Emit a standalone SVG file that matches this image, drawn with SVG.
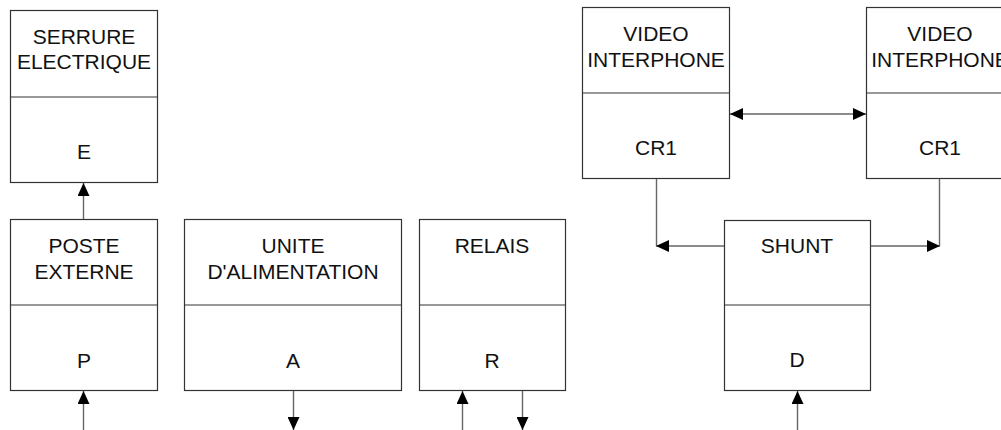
<svg xmlns="http://www.w3.org/2000/svg" width="1001" height="430" viewBox="0 0 1001 430">
<defs>
<marker id="ah" viewBox="0 0 13 12" refX="13" refY="6" markerWidth="13" markerHeight="12" markerUnits="userSpaceOnUse" orient="auto-start-reverse">
<path d="M0,0 L13,6 L0,12 Z" fill="#000"/>
</marker>
<style>
.box{fill:#fff;stroke:#333;stroke-width:1.2}
.div{stroke:#333;stroke-width:1.2}
.t{font-family:"Liberation Sans",Arial,sans-serif;font-size:21px;fill:#111;text-anchor:middle}
.c{fill:none;stroke:#666;stroke-width:1.4}
</style>
</defs>
<rect width="1001" height="430" fill="#fff"/>
<g id="E">
<rect class="box" x="10.5" y="10.5" width="147" height="172"/>
<line class="div" x1="10.5" y1="97" x2="157.5" y2="97"/>
<text class="t" x="84" y="44">SERRURE</text>
<text class="t" x="84" y="69">ELECTRIQUE</text>
<text class="t" x="84" y="159">E</text>
</g>
<g id="P">
<rect class="box" x="10.5" y="219.5" width="147" height="171"/>
<line class="div" x1="10.5" y1="305" x2="157.5" y2="305"/>
<text class="t" x="84" y="253">POSTE</text>
<text class="t" x="84" y="279">EXTERNE</text>
<text class="t" x="84" y="368">P</text>
</g>
<g id="A">
<rect class="box" x="184.5" y="219.5" width="217" height="171"/>
<line class="div" x1="184.5" y1="305" x2="401.5" y2="305"/>
<text class="t" x="293" y="253">UNITE</text>
<text class="t" x="293" y="279">D'ALIMENTATION</text>
<text class="t" x="293" y="368">A</text>
</g>
<g id="R">
<rect class="box" x="419.5" y="219.5" width="146" height="171"/>
<line class="div" x1="419.5" y1="305" x2="565.5" y2="305"/>
<text class="t" x="492" y="253">RELAIS</text>
<text class="t" x="492" y="368">R</text>
</g>
<g id="CR1a">
<rect class="box" x="582.5" y="7.5" width="147" height="171"/>
<line class="div" x1="582.5" y1="93" x2="729.5" y2="93"/>
<text class="t" x="656" y="41">VIDEO</text>
<text class="t" x="656" y="67">INTERPHONE</text>
<text class="t" x="656" y="155">CR1</text>
</g>
<g id="CR1b">
<rect class="box" x="866.5" y="7.5" width="147" height="171"/>
<line class="div" x1="866.5" y1="93" x2="1013.5" y2="93"/>
<text class="t" x="940" y="41">VIDEO</text>
<text class="t" x="940" y="67">INTERPHONE</text>
<text class="t" x="940" y="155">CR1</text>
</g>
<g id="D">
<rect class="box" x="724.5" y="220.5" width="146" height="170"/>
<line class="div" x1="724.5" y1="305" x2="870.5" y2="305"/>
<text class="t" x="797" y="253">SHUNT</text>
<text class="t" x="797" y="367">D</text>
</g>
<g id="connectors">
<line class="c" x1="83.5" y1="219" x2="83.5" y2="183" marker-end="url(#ah)"/>
<line class="c" x1="83.5" y1="430" x2="83.5" y2="391" marker-end="url(#ah)"/>
<line class="c" x1="293.5" y1="391" x2="293.5" y2="430" marker-end="url(#ah)"/>
<line class="c" x1="462.5" y1="430" x2="462.5" y2="391" marker-end="url(#ah)"/>
<line class="c" x1="522.5" y1="391" x2="522.5" y2="430" marker-end="url(#ah)"/>
<line class="c" x1="730" y1="114" x2="866" y2="114" marker-start="url(#ah)" marker-end="url(#ah)"/>
<line class="c" x1="656.5" y1="179" x2="656.5" y2="246"/>
<line class="c" x1="724" y1="246" x2="656" y2="246" marker-end="url(#ah)"/>
<line class="c" x1="939.5" y1="179" x2="939.5" y2="246"/>
<line class="c" x1="871" y1="246" x2="940" y2="246" marker-end="url(#ah)"/>
<line class="c" x1="797.5" y1="430" x2="797.5" y2="391" marker-end="url(#ah)"/>
</g>
</svg>
